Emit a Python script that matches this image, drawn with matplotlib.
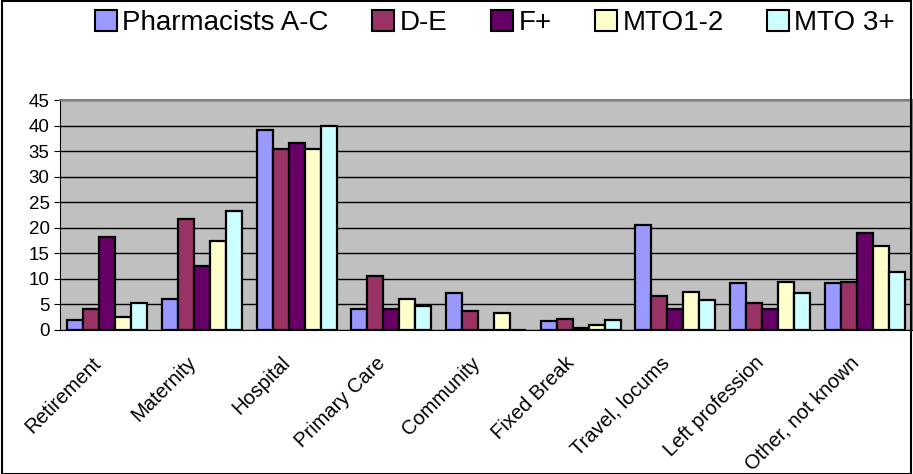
import matplotlib.pyplot as plt
import matplotlib.patches as mpatches
import matplotlib.transforms as mtransforms
import numpy as np

plt.rcParams['font.family'] = ['Liberation Sans', 'DejaVu Sans']

categories = ['Retirement', 'Maternity', 'Hospital', 'Primary Care', 'Community',
              'Fixed Break', 'Travel, locums', 'Left profession', 'Other, not known']
series_names = ['Pharmacists A-C', 'D-E', 'F+', 'MTO1-2', 'MTO 3+']

pharm_ac = [2.0, 6.1, 39.1, 4.1, 7.2, 1.7, 20.5, 9.2, 9.1]
d_e = [4.2, 21.7, 35.5, 10.6, 3.7, 2.1, 6.7, 5.3, 9.3]
f_plus = [18.2, 12.6, 36.5, 4.1, 0.0, 0.3, 4.2, 4.2, 19.0]
mto_12 = [2.6, 17.4, 35.5, 6.0, 3.4, 0.9, 7.4, 9.3, 16.5]
mto_3 = [5.2, 23.2, 39.9, 4.6, 0.0, 1.9, 5.9, 7.2, 11.4]

colors = ['#9999FF', '#993366', '#660066', '#FFFFCC', '#CCFFFF']
all_series = [pharm_ac, d_e, f_plus, mto_12, mto_3]

fig = plt.figure(figsize=(9.13, 4.74), dpi=100)
ax = fig.add_axes([0.0657, 0.3038, 0.9333, 0.4852])
ax.set_facecolor('#C0C0C0')

x = np.arange(len(categories))
w = 0.169
for i, (vals, c) in enumerate(zip(all_series, colors)):
    ax.bar(x + (i - 2) * w, vals, w, color=c, edgecolor='black', linewidth=1.6,
           zorder=3)

ax.set_xlim(-0.5, len(categories) - 0.5)
ax.set_ylim(0, 45)
ax.set_yticks(range(0, 46, 5))
ax.yaxis.grid(True, color='black', linewidth=1.0, zorder=1)
ax.set_axisbelow(True)
ax.tick_params(axis='y', labelsize=13.5, length=4, direction='out')
ax.tick_params(axis='x', length=0, labelsize=14.5, pad=0)
ax.set_xticks(x)
ax.set_xticklabels(categories, rotation=45, ha='right', va='center',
                   rotation_mode='anchor')
# shift the rotated labels down and to the left like the original
offset = mtransforms.ScaledTranslation(-0.09, -0.30, fig.dpi_scale_trans)
for lab in ax.get_xticklabels():
    lab.set_transform(lab.get_transform() + offset)

for s in ['top', 'right']:
    ax.spines[s].set_color('#808080')
    ax.spines[s].set_linewidth(1.5)
ax.spines['left'].set_color('black')
ax.spines['bottom'].set_color('black')

handles = [mpatches.Patch(facecolor=c, edgecolor='black', linewidth=1.5) for c in colors]
fig.legend(handles, series_names, loc='center', bbox_to_anchor=(0.542, 0.952), ncol=5,
           frameon=False, fontsize=20, handlelength=0.8, handleheight=0.8,
           handletextpad=0.2, columnspacing=1.55)

fig.patches.append(mpatches.Rectangle((0.002, 0.0), 0.996, 0.998, transform=fig.transFigure,
                                      fill=False, edgecolor='black', linewidth=1.5))

fig.savefig('out.png', dpi=100)
